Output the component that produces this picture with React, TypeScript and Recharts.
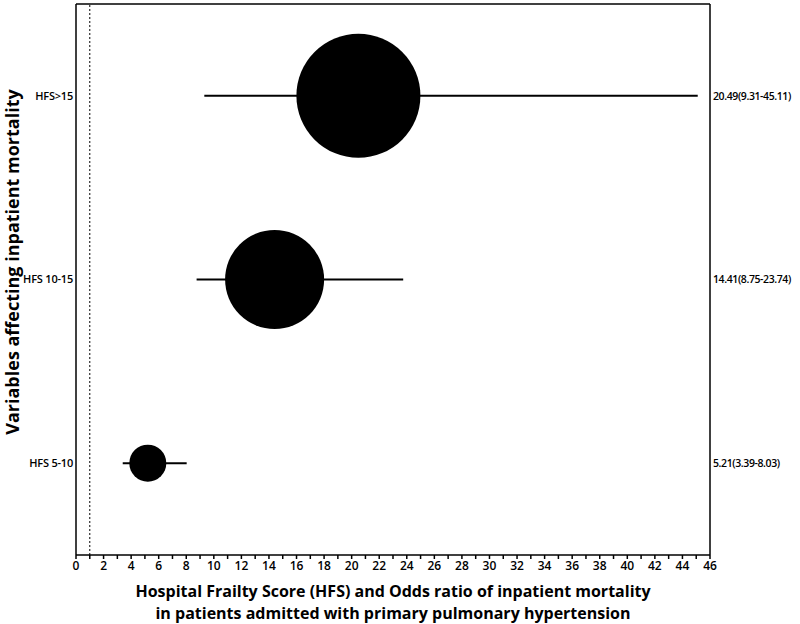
import React from 'react';
import {
  ScatterChart,
  Scatter,
  XAxis,
  YAxis,
  ZAxis,
  ReferenceLine,
  ErrorBar,
} from 'recharts';

const categories = ['HFS 5-10', 'HFS 10-15', 'HFS>15'];
const oddsRatio = [5.21, 14.41, 20.49];
const ciLow = [3.39, 8.75, 9.31];
const ciHigh = [8.03, 23.74, 45.11];
const ciLabels = ['5.21(3.39-8.03)', '14.41(8.75-23.74)', '20.49(9.31-45.11)'];
const xTicks = [
  0, 1, 2, 3, 4, 5, 6, 7, 8, 9, 10, 11, 12, 13, 14, 15, 16, 17, 18, 19, 20, 21, 22, 23,
  24, 25, 26, 27, 28, 29, 30, 31, 32, 33, 34, 35, 36, 37, 38, 39, 40, 41, 42, 43, 44, 45, 46,
];
const yPositions = [0.5, 1.5, 2.5];

const data = categories.map((name, i) => ({
  name,
  y: yPositions[i],
  or: oddsRatio[i],
  err: [oddsRatio[i] - ciLow[i], ciHigh[i] - oddsRatio[i]],
}));

const FONT = '"Open Sans", "DejaVu Sans", sans-serif';

const XLabel = (props: any) => {
  const vb = props.viewBox || {};
  const cx = (vb.x ?? 76) + (vb.width ?? 634) / 2;
  const top = vb.y ?? 555;
  return (
    <g>
      <text x={cx} y={top + 42} textAnchor="middle" fontFamily={FONT} fontWeight={700} fontSize={16} fill="#000">
        Hospital Frailty Score (HFS) and Odds ratio of inpatient mortality
      </text>
      <text x={cx} y={top + 64} textAnchor="middle" fontFamily={FONT} fontWeight={700} fontSize={16} fill="#000">
        in patients admitted with primary pulmonary hypertension
      </text>
    </g>
  );
};

const YLabel = () => {
  const cy = 262;
  return (
    <text
      x={19}
      y={cy}
      transform={`rotate(-90, 19, ${cy})`}
      textAnchor="middle"
      fontFamily={FONT}
      fontWeight={700}
      fontSize={18}
      fill="#000"
    >
      Variables affecting inpatient mortality
    </text>
  );
};

const NoShape = () => <g />;

export default function App() {
  return (
    <div style={{ position: 'absolute', left: 0, top: 0, width: 800, height: 624, background: '#fff' }}>
      <ScatterChart width={800} height={624} margin={{ top: 4, right: 0, bottom: 0, left: 0 }}>
        <XAxis
          type="number"
          dataKey="or"
          domain={[0, 46]}
          ticks={xTicks}
          interval={0}
          tickFormatter={(v: number) => (v % 2 === 0 ? String(v) : '')}
          height={69}
          tickSize={4}
          tickMargin={2}
          axisLine={{ stroke: '#000', strokeWidth: 1.5 }}
          tickLine={{ stroke: '#000', strokeWidth: 1.5 }}
          tick={{ fill: '#000', fontSize: 12, fontFamily: FONT, fontWeight: 600 }}
          allowDataOverflow
          label={{ content: XLabel }}
        />
        <YAxis
          yAxisId="left"
          type="number"
          dataKey="y"
          domain={[0, 3]}
          ticks={yPositions}
          width={76}
          tickLine={false}
          tickSize={0}
          tickMargin={3}
          axisLine={{ stroke: '#000', strokeWidth: 1.5 }}
          tick={{ fill: '#000', fontSize: 11, fontFamily: FONT, fontWeight: 600, letterSpacing: -0.2 }}
          tickFormatter={(v: number) => categories[yPositions.indexOf(v)] ?? ''}
          label={{ content: YLabel }}
        />
        <YAxis
          yAxisId="right"
          orientation="right"
          type="number"
          dataKey="y"
          domain={[0, 3]}
          ticks={yPositions}
          width={90}
          tickLine={false}
          tickSize={0}
          tickMargin={3}
          axisLine={{ stroke: '#000', strokeWidth: 1.5 }}
          tick={{ fill: '#000', fontSize: 10.5, fontFamily: FONT, fontWeight: 600, letterSpacing: -0.4 }}
          tickFormatter={(v: number) => ciLabels[yPositions.indexOf(v)] ?? ''}
        />
        <ZAxis type="number" dataKey="or" domain={['dataMin', 'dataMax']} range={[1075, 12076]} />
        <ReferenceLine yAxisId="left" y={3} stroke="#000" strokeWidth={1.5} ifOverflow="visible" />
        <ReferenceLine yAxisId="left" x={1} stroke="#000" strokeWidth={1} strokeDasharray="2 2" />
        <Scatter yAxisId="right" data={data} shape={NoShape} isAnimationActive={false} />
        <Scatter yAxisId="left" data={data} fill="#000" isAnimationActive={false}>
          <ErrorBar dataKey="err" direction="x" width={0} stroke="#000" strokeWidth={2} />
        </Scatter>
      </ScatterChart>
    </div>
  );
}
